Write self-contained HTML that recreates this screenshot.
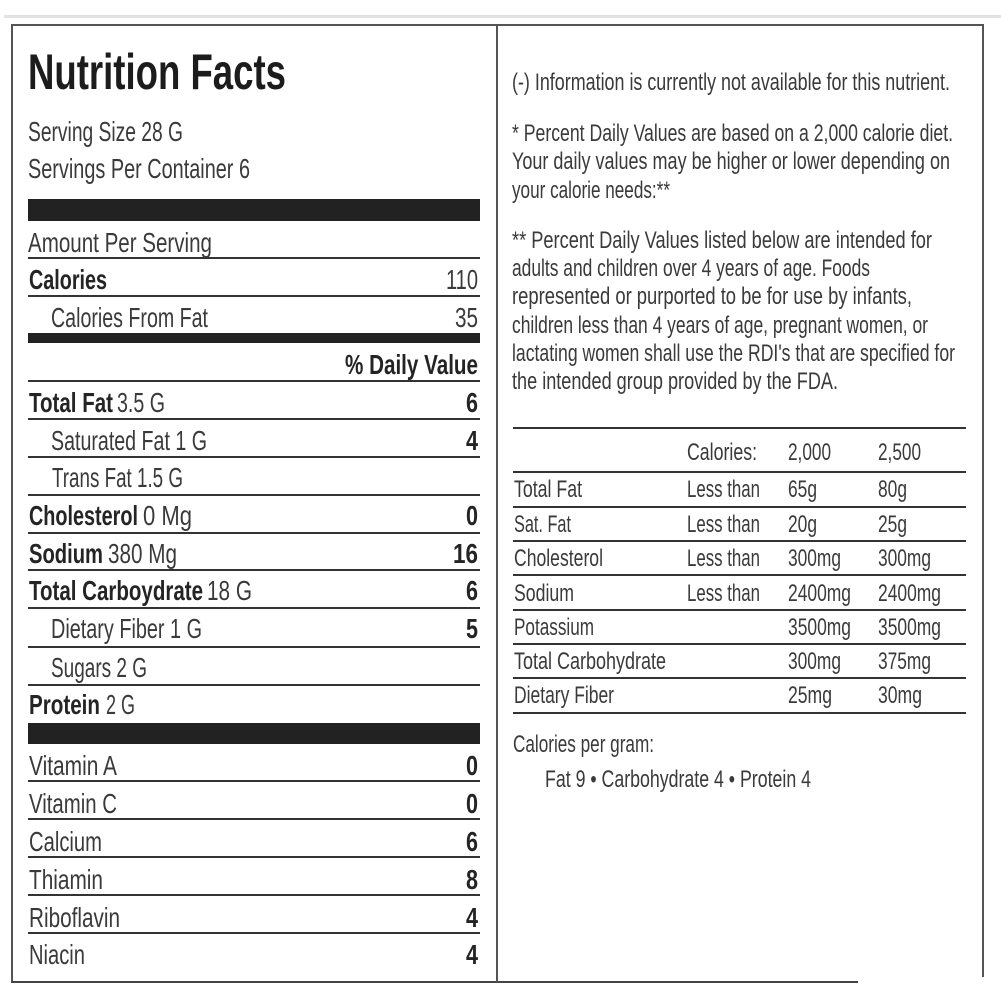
<!DOCTYPE html>
<html><head><meta charset="utf-8"><style>
html,body{margin:0;padding:0;background:#fff;}
svg{display:block;}
text{font-family:"Liberation Sans",sans-serif;}
.r{fill:#3a3a3a;font-size:28px;}
.b{fill:#242424;font-size:28px;font-weight:bold;}
.p{fill:#3a3a3a;font-size:24px;}
.t{fill:#3a3a3a;font-size:24px;}
</style></head><body>
<svg width="1001" height="1001" viewBox="0 0 1001 1001" xmlns="http://www.w3.org/2000/svg">
<rect x="0" y="0" width="1001" height="1001" fill="#fff"/>
<rect x="4" y="15" width="997" height="3" fill="#e2e2e2"/>
<!-- frame -->
<line x1="11" y1="25" x2="984" y2="25" stroke="#555" stroke-width="2"/>
<line x1="12" y1="24" x2="12" y2="983" stroke="#555" stroke-width="2"/>
<line x1="983" y1="24" x2="983" y2="977" stroke="#555" stroke-width="2"/>
<line x1="11" y1="982" x2="858" y2="982" stroke="#444" stroke-width="2"/>
<line x1="497" y1="24" x2="497" y2="982" stroke="#555" stroke-width="2"/>

<!-- LEFT -->
<text x="28" y="89" font-size="50" font-weight="bold" fill="#1c1c1c" textLength="258" lengthAdjust="spacingAndGlyphs">Nutrition Facts</text>
<text class="r" x="28" y="141" textLength="155" lengthAdjust="spacingAndGlyphs">Serving Size 28 G</text>
<text class="r" x="28" y="178" textLength="222" lengthAdjust="spacingAndGlyphs">Servings Per Container 6</text>
<rect x="28" y="199" width="452" height="22" fill="#222"/>

<text class="r" x="28" y="252" textLength="184" lengthAdjust="spacingAndGlyphs">Amount Per Serving</text>
<rect x="28" y="257" width="452" height="2" fill="#333"/>
<text class="b" x="29" y="289" textLength="78" lengthAdjust="spacingAndGlyphs">Calories</text>
<text class="r" x="478" y="289" text-anchor="end" textLength="32" lengthAdjust="spacingAndGlyphs">110</text>
<rect x="28" y="295" width="452" height="2" fill="#333"/>
<text class="r" x="51" y="327" textLength="157" lengthAdjust="spacingAndGlyphs">Calories From Fat</text>
<text class="r" x="478" y="327" text-anchor="end" textLength="23" lengthAdjust="spacingAndGlyphs">35</text>
<rect x="28" y="333" width="452" height="10" fill="#222"/>
<text class="b" x="478" y="374" text-anchor="end" textLength="133" lengthAdjust="spacingAndGlyphs">% Daily Value</text>
<rect x="28" y="380" width="452" height="2" fill="#333"/>

<text class="b" x="29" y="412" textLength="84" lengthAdjust="spacingAndGlyphs">Total Fat</text>
<text class="r" x="117" y="412" textLength="48" lengthAdjust="spacingAndGlyphs">3.5 G</text>
<text class="b" x="478" y="412" text-anchor="end" textLength="12" lengthAdjust="spacingAndGlyphs">6</text>
<rect x="28" y="418" width="452" height="2" fill="#333"/>

<text class="r" x="51" y="450" textLength="156" lengthAdjust="spacingAndGlyphs">Saturated Fat 1 G</text>
<text class="b" x="478" y="450" text-anchor="end" textLength="12" lengthAdjust="spacingAndGlyphs">4</text>
<rect x="28" y="456" width="452" height="2" fill="#333"/>

<text class="r" x="52" y="487" textLength="131" lengthAdjust="spacingAndGlyphs">Trans Fat 1.5 G</text>
<rect x="28" y="494" width="452" height="2" fill="#333"/>

<text class="b" x="29" y="525" textLength="109" lengthAdjust="spacingAndGlyphs">Cholesterol</text>
<text class="r" x="143" y="525" textLength="49" lengthAdjust="spacingAndGlyphs">0 Mg</text>
<text class="b" x="478" y="525" text-anchor="end" textLength="12" lengthAdjust="spacingAndGlyphs">0</text>
<rect x="28" y="532" width="452" height="2" fill="#333"/>

<text class="b" x="29" y="563" textLength="74" lengthAdjust="spacingAndGlyphs">Sodium</text>
<text class="r" x="108" y="563" textLength="69" lengthAdjust="spacingAndGlyphs">380 Mg</text>
<text class="b" x="478" y="563" text-anchor="end" textLength="25" lengthAdjust="spacingAndGlyphs">16</text>
<rect x="28" y="569" width="452" height="2" fill="#333"/>

<text class="b" x="29" y="600" textLength="174" lengthAdjust="spacingAndGlyphs">Total Carboydrate</text>
<text class="r" x="207" y="600" textLength="45" lengthAdjust="spacingAndGlyphs">18 G</text>
<text class="b" x="478" y="600" text-anchor="end" textLength="12" lengthAdjust="spacingAndGlyphs">6</text>
<rect x="28" y="607" width="452" height="2" fill="#333"/>

<text class="r" x="51" y="638" textLength="151" lengthAdjust="spacingAndGlyphs">Dietary Fiber 1 G</text>
<text class="b" x="478" y="638" text-anchor="end" textLength="12" lengthAdjust="spacingAndGlyphs">5</text>
<rect x="28" y="646" width="452" height="2" fill="#333"/>

<text class="r" x="51" y="677" textLength="96" lengthAdjust="spacingAndGlyphs">Sugars 2 G</text>
<rect x="28" y="684" width="452" height="2" fill="#333"/>

<text class="b" x="29" y="714" textLength="71" lengthAdjust="spacingAndGlyphs">Protein</text>
<text class="r" x="106" y="714" textLength="29" lengthAdjust="spacingAndGlyphs">2 G</text>
<rect x="28" y="723" width="452" height="21" fill="#222"/>

<text class="r" x="29" y="775" textLength="88" lengthAdjust="spacingAndGlyphs">Vitamin A</text>
<text class="b" x="478" y="775" text-anchor="end" textLength="12" lengthAdjust="spacingAndGlyphs">0</text>
<rect x="28" y="780" width="452" height="2" fill="#333"/>
<text class="r" x="29" y="813" textLength="88" lengthAdjust="spacingAndGlyphs">Vitamin C</text>
<text class="b" x="478" y="813" text-anchor="end" textLength="12" lengthAdjust="spacingAndGlyphs">0</text>
<rect x="28" y="818" width="452" height="2" fill="#333"/>
<text class="r" x="29" y="851" textLength="73" lengthAdjust="spacingAndGlyphs">Calcium</text>
<text class="b" x="478" y="851" text-anchor="end" textLength="12" lengthAdjust="spacingAndGlyphs">6</text>
<rect x="28" y="856" width="452" height="2" fill="#333"/>
<text class="r" x="29" y="889" textLength="74" lengthAdjust="spacingAndGlyphs">Thiamin</text>
<text class="b" x="478" y="889" text-anchor="end" textLength="12" lengthAdjust="spacingAndGlyphs">8</text>
<rect x="28" y="894" width="452" height="2" fill="#333"/>
<text class="r" x="29" y="927" textLength="91" lengthAdjust="spacingAndGlyphs">Riboflavin</text>
<text class="b" x="478" y="927" text-anchor="end" textLength="12" lengthAdjust="spacingAndGlyphs">4</text>
<rect x="28" y="932" width="452" height="2" fill="#333"/>
<text class="r" x="29" y="964" textLength="56" lengthAdjust="spacingAndGlyphs">Niacin</text>
<text class="b" x="478" y="964" text-anchor="end" textLength="12" lengthAdjust="spacingAndGlyphs">4</text>

<!-- RIGHT -->
<text class="p" x="512" y="90" textLength="438" lengthAdjust="spacingAndGlyphs">(-) Information is currently not available for this nutrient.</text>
<text class="p" x="512" y="141" textLength="441" lengthAdjust="spacingAndGlyphs">* Percent Daily Values are based on a 2,000 calorie diet.</text>
<text class="p" x="512" y="169" textLength="438" lengthAdjust="spacingAndGlyphs">Your daily values may be higher or lower depending on</text>
<text class="p" x="512" y="198" textLength="158" lengthAdjust="spacingAndGlyphs">your calorie needs:**</text>
<text class="p" x="512" y="248" textLength="420" lengthAdjust="spacingAndGlyphs">** Percent Daily Values listed below are intended for</text>
<text class="p" x="512" y="276" textLength="358" lengthAdjust="spacingAndGlyphs">adults and children over 4 years of age. Foods</text>
<text class="p" x="512" y="304" textLength="400" lengthAdjust="spacingAndGlyphs">represented or purported to be for use by infants,</text>
<text class="p" x="512" y="333" textLength="416" lengthAdjust="spacingAndGlyphs">children less than 4 years of age, pregnant women, or</text>
<text class="p" x="512" y="361" textLength="443" lengthAdjust="spacingAndGlyphs">lactating women shall use the RDI's that are specified for</text>
<text class="p" x="512" y="389" textLength="326" lengthAdjust="spacingAndGlyphs">the intended group provided by the FDA.</text>

<rect x="513" y="427" width="453" height="2" fill="#333"/>
<text class="t" x="687" y="460" textLength="70" lengthAdjust="spacingAndGlyphs">Calories:</text>
<text class="t" x="788" y="460" textLength="43" lengthAdjust="spacingAndGlyphs" fill="#2a2a2a">2,000</text>
<text class="t" x="878" y="460" textLength="43" lengthAdjust="spacingAndGlyphs" fill="#2a2a2a">2,500</text>
<rect x="513" y="471" width="453" height="2" fill="#333"/>

<text class="t" x="514" y="497" textLength="68" lengthAdjust="spacingAndGlyphs">Total Fat</text>
<text class="t" x="687" y="497" textLength="73" lengthAdjust="spacingAndGlyphs">Less than</text>
<text class="t" x="788" y="497" textLength="29" lengthAdjust="spacingAndGlyphs">65g</text>
<text class="t" x="878" y="497" textLength="29" lengthAdjust="spacingAndGlyphs">80g</text>
<rect x="513" y="506" width="453" height="2" fill="#333"/>

<text class="t" x="514" y="532" textLength="57" lengthAdjust="spacingAndGlyphs">Sat. Fat</text>
<text class="t" x="687" y="532" textLength="73" lengthAdjust="spacingAndGlyphs">Less than</text>
<text class="t" x="788" y="532" textLength="29" lengthAdjust="spacingAndGlyphs">20g</text>
<text class="t" x="878" y="532" textLength="29" lengthAdjust="spacingAndGlyphs">25g</text>
<rect x="513" y="540" width="453" height="2" fill="#333"/>

<text class="t" x="514" y="566" textLength="89" lengthAdjust="spacingAndGlyphs">Cholesterol</text>
<text class="t" x="687" y="566" textLength="73" lengthAdjust="spacingAndGlyphs">Less than</text>
<text class="t" x="788" y="566" textLength="53" lengthAdjust="spacingAndGlyphs">300mg</text>
<text class="t" x="878" y="566" textLength="53" lengthAdjust="spacingAndGlyphs">300mg</text>
<rect x="513" y="574" width="453" height="2" fill="#333"/>

<text class="t" x="514" y="601" textLength="60" lengthAdjust="spacingAndGlyphs">Sodium</text>
<text class="t" x="687" y="601" textLength="73" lengthAdjust="spacingAndGlyphs">Less than</text>
<text class="t" x="788" y="601" textLength="63" lengthAdjust="spacingAndGlyphs">2400mg</text>
<text class="t" x="878" y="601" textLength="63" lengthAdjust="spacingAndGlyphs">2400mg</text>
<rect x="513" y="609" width="453" height="2" fill="#333"/>

<text class="t" x="514" y="635" textLength="80" lengthAdjust="spacingAndGlyphs">Potassium</text>
<text class="t" x="788" y="635" textLength="63" lengthAdjust="spacingAndGlyphs">3500mg</text>
<text class="t" x="878" y="635" textLength="63" lengthAdjust="spacingAndGlyphs">3500mg</text>
<rect x="513" y="643" width="453" height="2" fill="#333"/>

<text class="t" x="514" y="669" textLength="152" lengthAdjust="spacingAndGlyphs">Total Carbohydrate</text>
<text class="t" x="788" y="669" textLength="53" lengthAdjust="spacingAndGlyphs">300mg</text>
<text class="t" x="878" y="669" textLength="53" lengthAdjust="spacingAndGlyphs">375mg</text>
<rect x="513" y="677" width="453" height="2" fill="#333"/>

<text class="t" x="514" y="703" textLength="100" lengthAdjust="spacingAndGlyphs">Dietary Fiber</text>
<text class="t" x="788" y="703" textLength="44" lengthAdjust="spacingAndGlyphs">25mg</text>
<text class="t" x="878" y="703" textLength="44" lengthAdjust="spacingAndGlyphs">30mg</text>
<rect x="513" y="712" width="453" height="2" fill="#333"/>

<text class="p" x="513" y="752" textLength="141" lengthAdjust="spacingAndGlyphs">Calories per gram:</text>
<text class="p" x="545" y="787" textLength="266" lengthAdjust="spacingAndGlyphs">Fat 9 • Carbohydrate 4 • Protein 4</text>
</svg>
</body></html>
